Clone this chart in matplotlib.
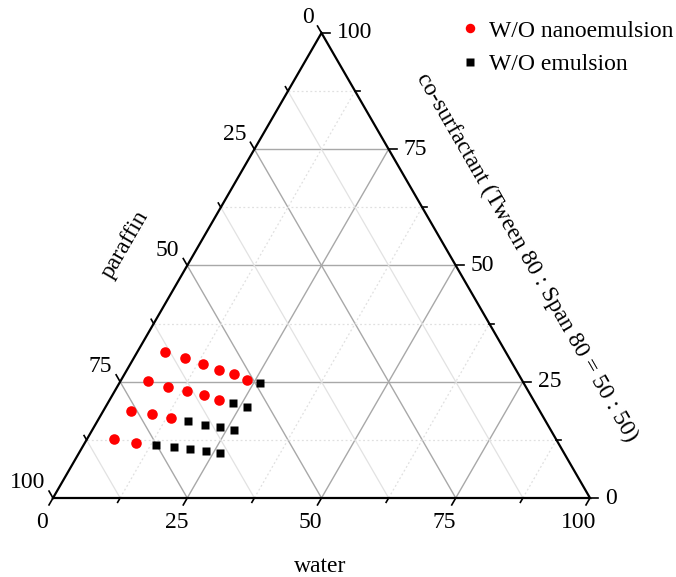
import numpy as np
import matplotlib
matplotlib.use("Agg")
import matplotlib.pyplot as plt

plt.rcParams['font.family'] = ['Liberation Serif', 'DejaVu Serif']

# W/O nanoemulsion points (water, co-surfactant, paraffin), in %
nano_water = [5.2, 9.5, 13.5, 17.2, 20.4, 23.4,
              5.1, 9.5, 13.5, 17.0, 20.4,
              5.2, 9.4, 13.4,
              5.0, 9.6]
nano_cosurf = [31.4, 30.1, 28.8, 27.5, 26.7, 25.4,
               25.2, 23.9, 23.0, 22.2, 21.1,
               18.7, 18.1, 17.2,
               12.7, 11.8]
nano_paraffin = [63.4, 60.4, 57.7, 55.3, 52.9, 51.2,
                 69.7, 66.6, 63.5, 60.8, 58.5,
                 76.1, 72.5, 69.4,
                 82.3, 78.6]

# W/O emulsion points
emul_water = [26.2,
              23.3, 26.3,
              16.9, 20.5, 23.5, 26.4,
              13.5, 17.1, 20.2, 23.4, 26.3]
emul_cosurf = [24.7,
               20.4, 19.6,
               16.6, 15.7, 15.3, 14.6,
               11.4, 11.0, 10.5, 10.1, 9.7]
emul_paraffin = [49.1,
                 56.3, 54.1,
                 66.5, 63.8, 61.2, 59.0,
                 75.1, 71.9, 69.3, 66.5, 64.0]

major = [0, 25, 50, 75, 100]
minor = [12.5, 37.5, 62.5, 87.5]

H = np.sqrt(3) / 2
PX = 537.0  # pixels per unit side


# Convert ternary (water, co-surfactant) to cartesian
def tern(w, s):
  w = np.asarray(w, dtype=float)
  s = np.asarray(s, dtype=float)
  return w / 100 + s / 200, s / 100 * H


fig = plt.figure(figsize=(6.76, 5.77), dpi=100)
ax = fig.add_axes([0, 0, 1, 1])
ax.set_xlim(-53 / PX, (676 - 53) / PX)
ax.set_ylim((498 - 577) / PX, 498 / PX)
ax.axis('off')

# Grid lines
def grid_lines(v, style):
  # constant water
  x, y = tern([v, v], [0, 100 - v])
  ax.plot(x, y, **style['w'])
  # constant co-surfactant
  x, y = tern([0, 100 - v], [v, v])
  ax.plot(x, y, **style['s'])
  # constant paraffin
  x, y = tern([100 - v, 0], [0, 100 - v])
  ax.plot(x, y, **style['p'])

maj_style = dict(color='#a8a8a8', lw=1.0, zorder=1)
dot_style = dict(color='#e0e0e0', lw=0.9, ls=(0, (1.5, 2)), zorder=1)
lite_style = dict(color='#e2e2e2', lw=0.9, zorder=1)
for v in major[1:-1]:
  grid_lines(v, {'w': maj_style, 's': maj_style, 'p': maj_style})
for v in minor:
  grid_lines(v, {'w': dot_style, 's': dot_style, 'p': lite_style})

# Triangle frame
x, y = tern([0, 100, 0, 0], [0, 0, 100, 0])
ax.plot(x, y, color='black', lw=1.6, zorder=3, solid_joinstyle='miter')

# Ticks
d_bot = np.array([-0.5, -H])
d_left = np.array([-0.5, H])
d_right = np.array([1.0, 0.0])
for v, L in [(m, 8) for m in major] + [(m, 5) for m in minor]:
  L = L / PX
  # bottom: water
  bx, by = tern(v, 0)
  ax.plot([bx, bx + d_bot[0] * L], [by, by + d_bot[1] * L], color='black', lw=1.2, zorder=3)
  # left: paraffin
  lx, ly = tern(0, 100 - v)
  ax.plot([lx, lx + d_left[0] * L], [ly, ly + d_left[1] * L], color='black', lw=1.2, zorder=3)
  # right: co-surfactant
  rx, ry = tern(100 - v, v)
  ax.plot([rx, rx + d_right[0] * L], [ry, ry + d_right[1] * L], color='black', lw=1.2, zorder=3)

fs = 17
for v in major:
  bx, by = tern(v, 0)
  ax.text(bx - 11 / PX, by - 25 / PX, str(v), ha='center', va='center', fontsize=fs)
  lx, ly = tern(0, 100 - v)
  ax.text(lx - 8 / PX, ly + 15 / PX, str(v), ha='right', va='center', fontsize=fs)
  rx, ry = tern(100 - v, v)
  ax.text(rx + 15 / PX, ry, str(v), ha='left', va='center', fontsize=fs)

# Axis titles
ax.text((320 - 53) / PX, (498 - 567) / PX, 'water', ha='center', va='center', fontsize=fs)
ax.text((125 - 53) / PX, (498 - 245) / PX, 'paraffin', ha='center', va='center',
        fontsize=fs, rotation=60, rotation_mode='anchor')
ax.text((527 - 53) / PX, (498 - 257) / PX, 'co-surfactant (Tween 80 : Span 80 = 50 : 50)',
        ha='center', va='center', fontsize=fs, rotation=-60, rotation_mode='anchor')

# Data
x, y = tern(nano_water, nano_cosurf)
ax.plot(x, y, 'o', color='#ff0000', ms=7.6, mec='none', zorder=4, label='W/O nanoemulsion')
x, y = tern(emul_water, emul_cosurf)
ax.plot(x, y, 's', color='black', ms=6.4, mec='none', zorder=4, label='W/O emulsion')

ax.legend(loc='upper left', bbox_to_anchor=(458 / 676, 1 - 20 / 577), frameon=False,
          fontsize=fs, borderpad=0, borderaxespad=0, handlelength=1.0,
          handletextpad=0.3, labelspacing=0.5, markerscale=0.9)

fig.savefig('out.png', dpi=100)
